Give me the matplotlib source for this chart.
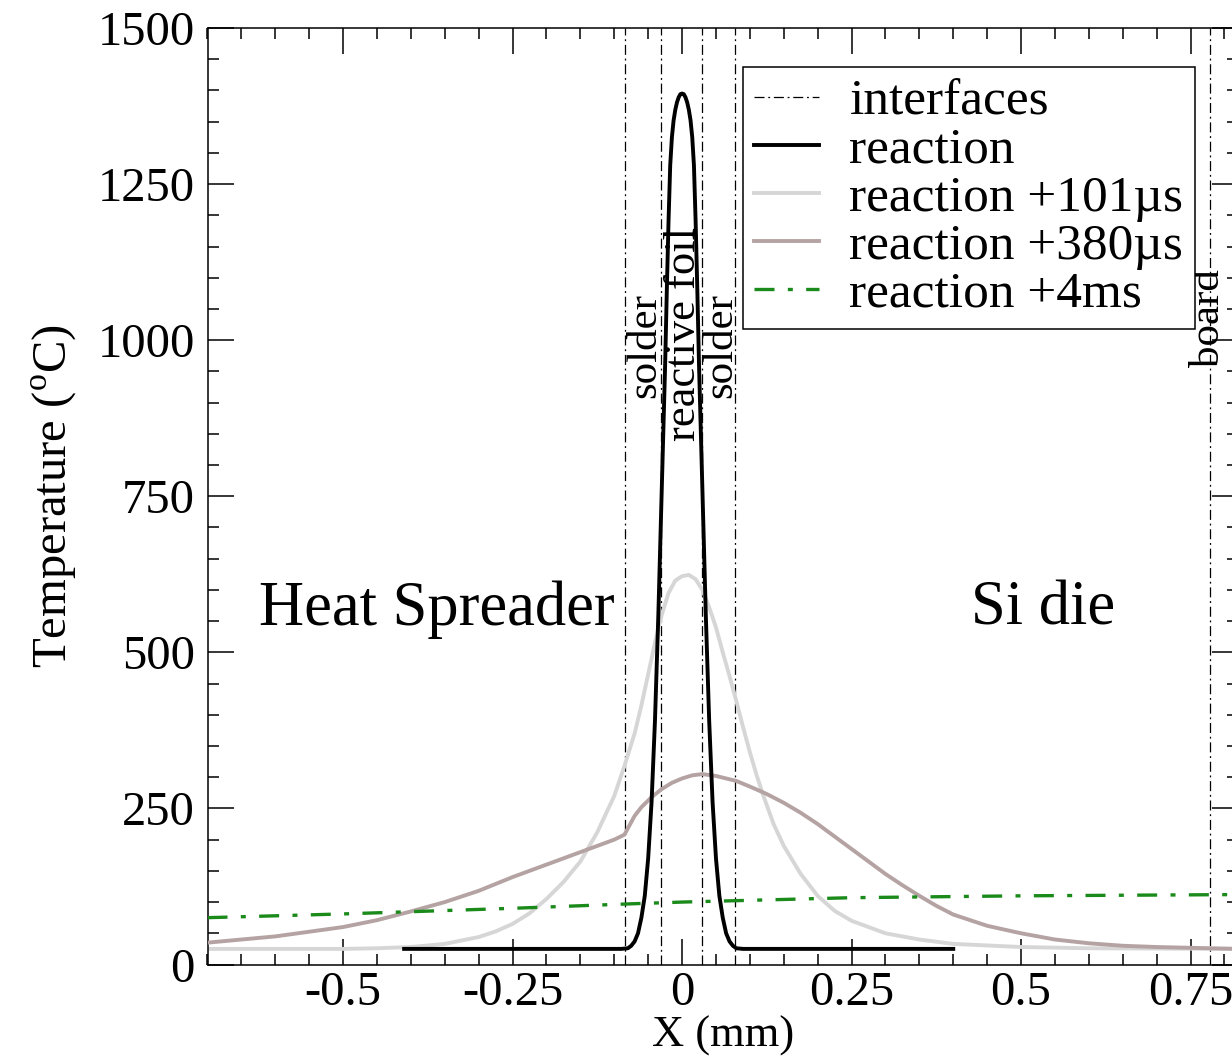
import matplotlib
matplotlib.use('Agg')
import matplotlib.pyplot as plt
from matplotlib.ticker import MultipleLocator

plt.rcParams['font.family'] = ['Liberation Serif', 'DejaVu Serif']
plt.rcParams['mathtext.fontset'] = 'custom'
plt.rcParams['mathtext.rm'] = 'Liberation Serif'
plt.rcParams['axes.unicode_minus'] = False

# interface positions (mm)
interfaces = [-0.084, -0.031, 0.030, 0.078, 0.779]

# reaction (black)
x_reac = [-0.41, -0.2, -0.09, -0.08, -0.075, -0.07, -0.065, -0.06, -0.055, -0.05, -0.045,
          -0.04, -0.035, -0.03, -0.025, -0.0225, -0.02, -0.0175, -0.015, -0.0125, -0.01,
          -0.0075, -0.005, -0.0025, 0.0,
          0.0025, 0.005, 0.0075, 0.01, 0.0125, 0.015, 0.0175, 0.02, 0.0225, 0.025,
          0.03, 0.035, 0.04, 0.045, 0.05,
          0.055, 0.06, 0.065, 0.07, 0.075, 0.08, 0.09, 0.2, 0.40]
t_reac = [25, 25, 25, 26, 30, 37, 50, 75, 110, 170, 260,
          390, 560, 760, 960, 1080, 1190, 1280, 1325, 1352, 1369,
          1381, 1389, 1394, 1395,
          1394, 1389, 1381, 1369, 1352, 1325, 1280, 1190, 1080, 960,
          760, 560, 390, 260, 170,
          110, 75, 50, 37, 30, 26, 25, 25, 25]

# reaction +101us (light gray)
x_101 = [-0.7, -0.5, -0.45, -0.4, -0.35, -0.3, -0.275, -0.25, -0.225, -0.2, -0.175,
         -0.15, -0.125, -0.1, -0.085, -0.07, -0.06, -0.05, -0.04, -0.03, -0.02, -0.01,
         0.0, 0.01, 0.02, 0.03, 0.04, 0.05, 0.06, 0.07, 0.08, 0.09, 0.1, 0.11, 0.12,
         0.135, 0.15, 0.175, 0.2, 0.225, 0.25, 0.3, 0.35, 0.4, 0.5, 0.6, 0.82]
t_101 = [25, 25, 26, 28, 33, 44, 53, 65, 82, 105, 132,
         165, 212, 270, 318, 370, 415, 465, 515, 560, 595, 615,
         622, 624, 617, 600, 572, 540, 500, 462, 422, 380, 340, 303, 270,
         225, 190, 145, 110, 86, 70, 50, 40, 33, 28, 26, 25]

# reaction +380us (rosy gray)
x_380 = [-0.7, -0.6, -0.5, -0.45, -0.4, -0.35, -0.3, -0.25, -0.2, -0.15, -0.1, -0.085,
         -0.07, -0.06, -0.045, -0.03, -0.015, 0.0, 0.015, 0.03, 0.05, 0.08, 0.1, 0.125,
         0.15, 0.175, 0.2, 0.225, 0.25, 0.275, 0.3, 0.325, 0.35, 0.375,
         0.4, 0.45, 0.5, 0.55, 0.6, 0.65, 0.7, 0.82]
t_380 = [35, 45, 60, 71, 85, 100, 118, 140, 160, 180, 200, 208,
         238, 252, 268, 281, 291, 298, 303, 305, 302, 294, 285, 273,
         259, 243, 225, 205, 185, 165, 145, 127, 110, 94,
         80, 62, 50, 40, 34, 30, 28, 25]

# reaction +4ms (green dash-dot)
x_4ms = [-0.7, -0.5, -0.25, -0.08, 0.0, 0.25, 0.5, 0.82]
t_4ms = [75, 81, 90, 97, 100, 107, 110, 112]

xticks = [-0.5, -0.25, 0, 0.25, 0.5, 0.75]
xtick_labels = ['-0.5', '-0.25', '0', '0.25', '0.5', '0.75']
yticks = [0, 250, 500, 750, 1000, 1250, 1500]

fig = plt.figure(figsize=(12.32, 10.61), dpi=100)
ax = fig.add_axes([207.5 / 1232, (1061 - 964.5) / 1061, (1238 - 207.5) / 1232, (964.5 - 28) / 1061])

for i, xi in enumerate(interfaces):
    ax.axvline(xi, color='black', lw=0.9, linestyle=(0, (8, 3, 1.5, 3)),
               label='interfaces' if i == 0 else None, zorder=1)

ax.plot(x_reac, t_reac, color='black', lw=2.8, label='reaction', zorder=4)
ax.plot(x_101, t_101, color='#d6d6d6', lw=2.8, label='reaction +101µs', zorder=2)
ax.plot(x_380, t_380, color='#b5a3a3', lw=2.8, label='reaction +380µs', zorder=3)
ax.plot(x_4ms, t_4ms, color='#1a8a1a', lw=2.4, linestyle=(0, (6, 4, 1.5, 4)),
        label='reaction +4ms', zorder=3)

ax.set_xlim(-0.7, 0.82)
ax.set_ylim(0, 1500)
ax.set_xticks(xticks)
ax.set_xticklabels(xtick_labels)
ax.set_yticks(yticks)
ax.xaxis.set_minor_locator(MultipleLocator(0.05))
ax.yaxis.set_minor_locator(MultipleLocator(50))
ax.tick_params(which='both', direction='in', top=True, right=True, width=1.1)
ax.tick_params(which='major', length=18.5, labelsize=35)
ax.tick_params(which='minor', length=8)
ax.tick_params(axis='x', pad=5)
ax.tick_params(axis='y', pad=9)
for s in ax.spines.values():
    s.set_linewidth(1.1)

ax.set_xlabel('X (mm)', fontsize=32, labelpad=0)
ax.set_ylabel(r'Temperature ($^{\mathrm{o}}$C)', fontsize=35, labelpad=14)

ax.text(-0.362, 568, 'Heat Spreader', fontsize=45, ha='center', va='center')
ax.text(0.532, 568, 'Si die', fontsize=45, ha='center', va='center')
ax.text(-0.054, 992, 'solder', fontsize=31, rotation=90, ha='center', va='center')
ax.text(0.003, 1010, 'reactive foil', fontsize=32, rotation=90, ha='center', va='center')
ax.text(0.058, 992, 'solder', fontsize=31, rotation=90, ha='center', va='center')
ax.text(0.777, 1035, 'board', fontsize=31, rotation=90, ha='center', va='center')

leg = ax.legend(loc='upper right', bbox_to_anchor=(0.958, 0.958), borderaxespad=0,
                fontsize=37, fancybox=False, framealpha=1, edgecolor='black',
                handlelength=1.25, handletextpad=0.6, labelspacing=0.02,
                borderpad=0.22)
leg.get_frame().set_linewidth(1.1)

fig.savefig('out.png', dpi=100)
